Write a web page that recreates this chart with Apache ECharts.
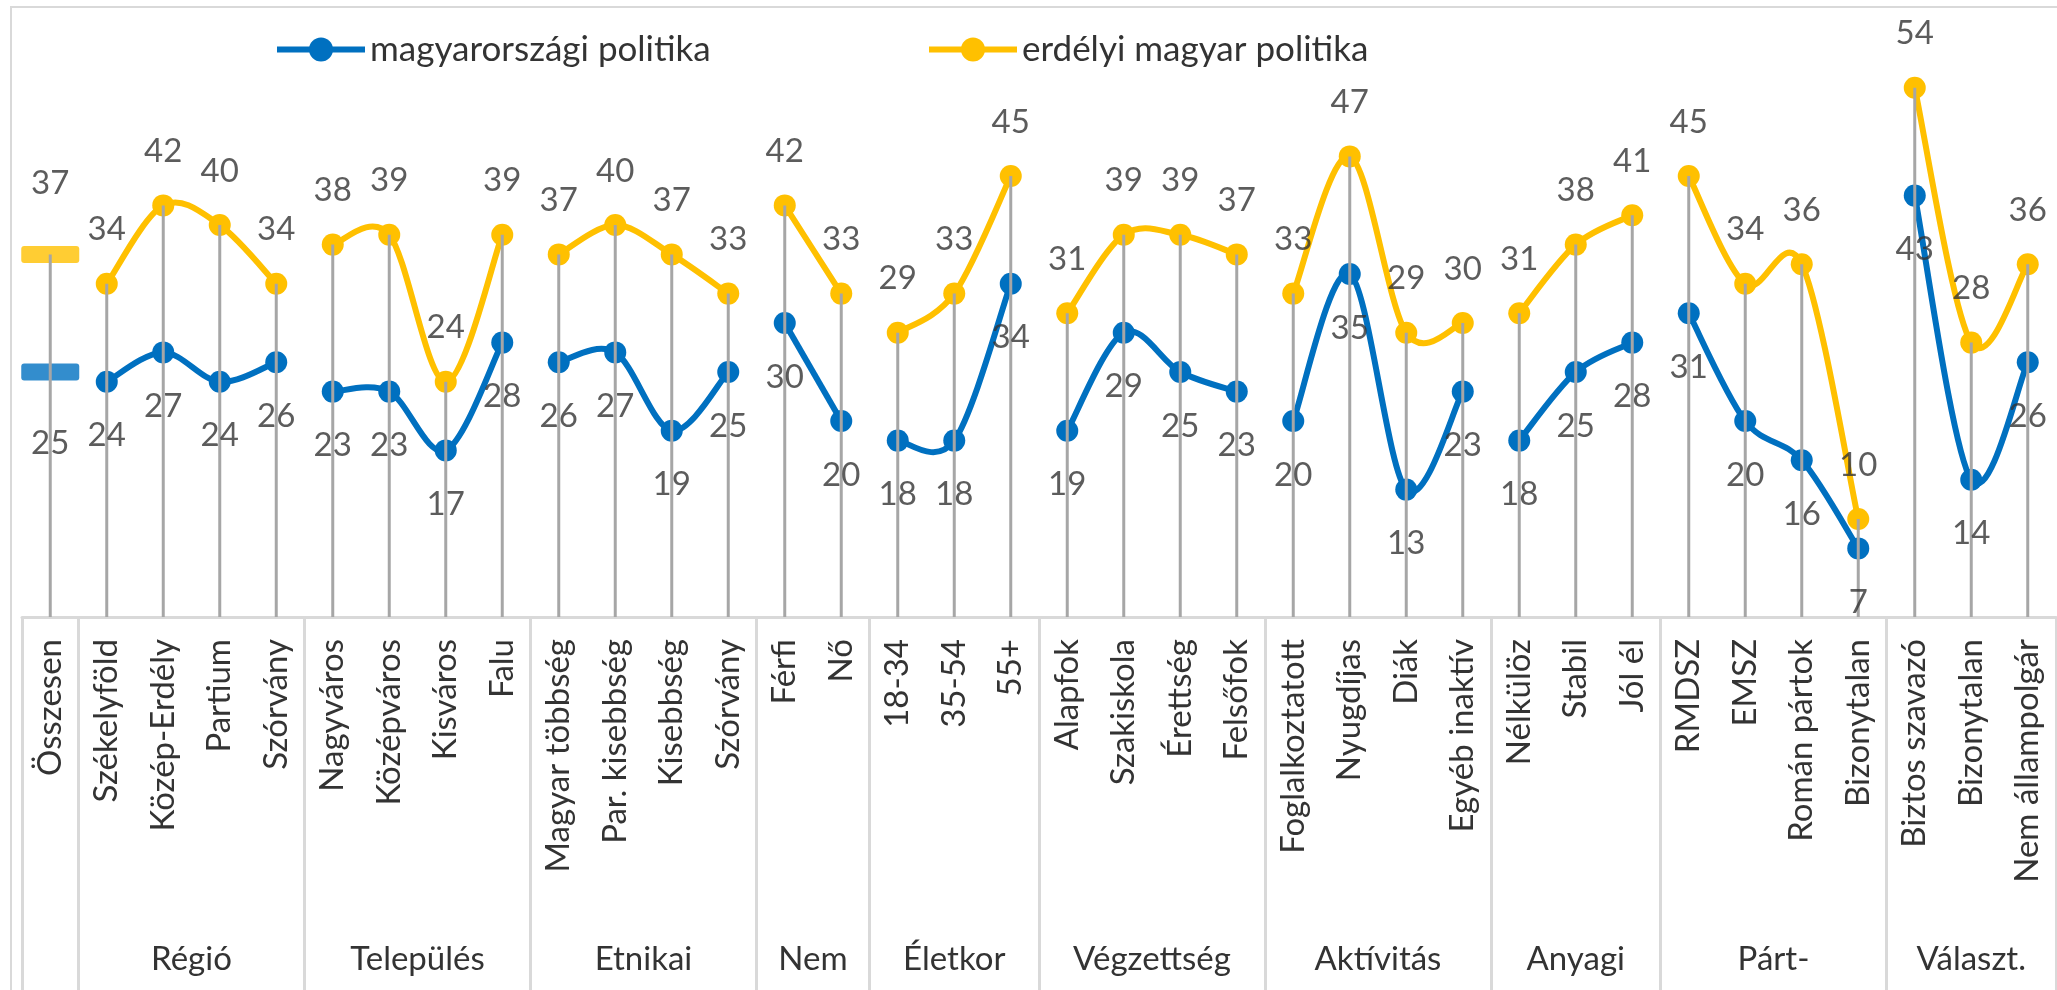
<!DOCTYPE html>
<html>
<head>
<meta charset="utf-8">
<script src="https://cdn.jsdelivr.net/npm/echarts@6/dist/echarts.min.js"></script>
<style>
  body { margin: 0; background: #fff; }
  #wrap { position: relative; width: 2057px; height: 990px; overflow: hidden; }
  #frame { position: absolute; left: 10px; top: 6px; width: 2200px; height: 1100px; border: 2px solid #d9d9d9; box-sizing: border-box; }
  #chart { position: absolute; left: 0; top: 0; width: 2057px; height: 990px; }
</style>
</head>
<body>
<div id="wrap"><div id="frame"></div><div id="chart"></div></div>
<script>
// categories, in axis order
const categories = ['Összesen',
  'Székelyföld', 'Közép-Erdély', 'Partium', 'Szórvány',
  'Nagyváros', 'Középváros', 'Kisváros', 'Falu',
  'Magyar többség', 'Par. kisebbség', 'Kisebbség', 'Szórvány',
  'Férfi', 'Nő',
  '18-34', '35-54', '55+',
  'Alapfok', 'Szakiskola', 'Érettség', 'Felsőfok',
  'Foglalkoztatott', 'Nyugdíjas', 'Diák', 'Egyéb inaktív',
  'Nélkülöz', 'Stabil', 'Jól él',
  'RMDSZ', 'EMSZ', 'Román pártok', 'Bizonytalan',
  'Biztos szavazó', 'Bizonytalan', 'Nem állampolgár'];
const groupNames = ['', 'Régió', 'Település', 'Etnikai', 'Nem', 'Életkor', 'Végzettség', 'Aktívitás', 'Anyagi', 'Párt-', 'Választ.'];
const groupSizes = [1, 4, 4, 4, 2, 3, 4, 4, 3, 4, 3];
const magyarorszagi = [25, 24, 27, 24, 26, 23, 23, 17, 28, 26, 27, 19, 25, 30, 20, 18, 18, 34,
  19, 29, 25, 23, 20, 35, 13, 23, 18, 25, 28, 31, 20, 16, 7, 43, 14, 26];
const erdelyi = [37, 34, 42, 40, 34, 38, 39, 24, 39, 37, 40, 37, 33, 42, 33, 29, 33, 45,
  31, 39, 39, 37, 33, 47, 29, 30, 31, 38, 41, 45, 34, 36, 10, 54, 28, 36];
const seriesNames = ['magyarországi politika', 'erdélyi magyar politika'];

const BLUE = '#0070c0', YELLOW = '#ffc000', GRAY = '#a6a6a6', LINE = '#d9d9d9', TEXT = '#333333';
const FONT = 'Lato';

let starts = [], acc = 0;
groupSizes.forEach(n => { starts.push(acc); acc += n; });
const bounds = starts.concat([acc]);
const centers = starts.slice(1).map((s, k) => s + groupSizes[k + 1] / 2);
const groupIdx = groupSizes.map((n, g) => g).slice(1);

// excel-like smoothed curve through the pixel points of one group
function smoothPath(p) {
  let d = 'M' + p[0][0] + ',' + p[0][1];
  for (let i = 0; i < p.length - 1; i++) {
    const a = p[i - 1] || p[i], b = p[i], c = p[i + 1], e = p[i + 2] || p[i + 1];
    const c1 = [b[0] + (c[0] - a[0]) / 6, b[1] + (c[1] - a[1]) / 6];
    const c2 = [c[0] - (e[0] - b[0]) / 6, c[1] - (e[1] - b[1]) / 6];
    d += ' C' + c1.join(',') + ' ' + c2.join(',') + ' ' + c.join(',');
  }
  return d;
}

const pairs = [[magyarorszagi, BLUE, seriesNames[0]], [erdelyi, YELLOW, seriesNames[1]]];
const series = [];

// markers (also give the legend its look)
pairs.forEach(([vals, color, name]) => {
  series.push({
    type: 'line', name, symbol: 'circle', symbolSize: 22, z: 2, color,
    lineStyle: { width: 0, opacity: 0 },
    data: vals.map((v, i) => i === 0 ? '-' : v)
  });
});

// curves, broken between groups
pairs.forEach(([vals, color, name]) => {
  series.push({
    type: 'custom', name, z: 2, silent: true,
    data: groupIdx.map(g => [starts[g], vals[starts[g]]]),
    renderItem: (params, api) => {
      const g = groupIdx[params.dataIndex];
      const pts = [];
      for (let i = starts[g]; i < starts[g] + groupSizes[g]; i++) pts.push(api.coord([i, vals[i]]));
      return {
        type: 'path', shape: { pathData: smoothPath(pts) },
        style: { fill: 'none', stroke: color, lineWidth: 6, lineJoin: 'round' }
      };
    }
  });
});

// Összesen: dash markers
pairs.forEach(([vals, color, name]) => {
  series.push({
    type: 'scatter', name, z: 2,
    symbol: 'path://M3,0 H55 Q58,0 58,3 V14 Q58,17 55,17 H3 Q0,17 0,14 V3 Q0,0 3,0 Z',
    symbolSize: [58, 17],
    itemStyle: { color },
    data: vals.map((v, i) => i === 0 ? v : '-')
  });
});

// drop lines
series.push({
  type: 'bar', barWidth: 3, z: 3, silent: true,
  itemStyle: { color: GRAY },
  data: erdelyi.map((v, i) => Math.max(v, magyarorszagi[i]))
});

// data labels on top of everything
const labelStyle = { show: true, fontFamily: FONT, fontSize: 33, color: TEXT, lineHeight: 34 };
[[erdelyi, 'top'], [magyarorszagi, 'bottom']].forEach(([vals, pos]) => {
  series.push({
    type: 'scatter', z: 5, silent: true, symbolSize: 22,
    itemStyle: { color: 'transparent' },
    label: Object.assign({ position: pos, distance: 26 }, labelStyle),
    data: vals.map((v, i) => i === 0 ? { value: v, symbolSize: [58, 17], label: { distance: 46 } } : v)
  });
});

const legendText = { fontFamily: FONT, fontSize: 35, color: TEXT };
const legendBase = { top: 27, itemWidth: 88, itemHeight: 30, textStyle: legendText, lineStyle: { width: 6, opacity: 1 } };

const chart = echarts.init(document.getElementById('chart'));
chart.setOption({
  animation: false,
  legend: [
    Object.assign({ data: [seriesNames[0]], left: 269 }, legendBase),
    Object.assign({ data: [seriesNames[1]], left: 921 }, legendBase)
  ],
  grid: { left: 22, right: 1, top: 29, bottom: 373, outerBoundsMode: 'none' },
  xAxis: [
    {
      type: 'category', data: categories,
      axisLine: { lineStyle: { color: LINE, width: 3 } },
      axisTick: { show: false },
      axisLabel: { rotate: 90, interval: 0, margin: 22, fontFamily: FONT, fontSize: 33, color: TEXT }
    },
    {
      type: 'value', min: 0, max: 36, position: 'bottom',
      axisLine: { show: false }, splitLine: { show: false },
      axisTick: { show: true, customValues: bounds, length: 374, lineStyle: { color: LINE, width: 3 } },
      axisLabel: {
        customValues: centers, margin: 326, fontFamily: FONT, fontSize: 33, color: TEXT,
        formatter: v => groupNames[centers.indexOf(v) + 1]
      }
    }
  ],
  yAxis: { type: 'value', min: 0, max: 60, show: false },
  series
});
</script>
</body>
</html>
